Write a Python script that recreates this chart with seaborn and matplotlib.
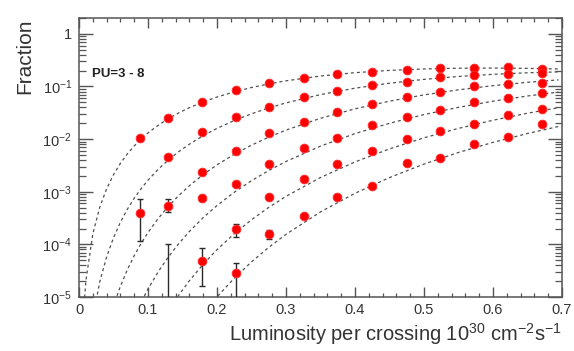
import numpy as np
import pandas as pd
import matplotlib
matplotlib.use("Agg")
import matplotlib.pyplot as plt
import seaborn as sns
from matplotlib.ticker import LogLocator, MultipleLocator, NullFormatter

# ---------------- data ----------------
pu_labels = ["PU=3", "PU=4", "PU=5", "PU=6", "PU=7", "PU=8"]

# measured points
lumi_pts = [0.088, 0.129, 0.178, 0.228, 0.276, 0.326, 0.374, 0.425, 0.475, 0.523, 0.572, 0.622, 0.671]
pu3_pts = [0.0105, 0.025, 0.051, 0.086, 0.117, 0.146, 0.174, 0.19, 0.207, 0.226, 0.226, 0.236, 0.216]
pu4_pts = [4.0e-4, 0.0046, 0.0138, 0.026, 0.041, 0.063, 0.082, 0.107, 0.122, 0.152, 0.166, 0.174, 0.18]
pu5_pts = [None, 5.4e-4, 0.0024, 0.006, 0.013, 0.021, 0.033, 0.047, 0.063, 0.079, 0.103, 0.112, 0.117]
pu6_pts = [None, None, 7.6e-4, 0.0014, 0.0034, 0.0068, 0.0105, 0.0186, 0.026, 0.036, 0.051, 0.061, 0.076]
pu7_pts = [None, None, 4.8e-5, 1.96e-4, 7.9e-4, 0.00175, 0.0034, 0.006, 0.010, 0.0144, 0.0195, 0.029, 0.037]
pu8_pts = [None, None, None, 2.9e-5, 1.58e-4, 3.5e-4, 7.9e-4, 0.0013, 0.0035, 0.0044, 0.0081, 0.011, 0.0195]

# error bars on the low-statistics points: (lumi, value, low, high)
err_lumi = [0.088, 0.129, 0.178, 0.178, 0.228, 0.228, 0.276, 0.129]
err_val = [4.0e-4, 5.4e-4, 7.6e-4, 4.8e-5, 1.96e-4, 2.9e-5, 1.58e-4, 1.0e-6]
err_low = [1.15e-4, 4.1e-4, 6.8e-4, 1.6e-5, 1.4e-4, 1.0e-6, 1.25e-4, 1.0e-6]
err_high = [7.3e-4, 7.3e-4, 8.5e-4, 8.5e-5, 2.4e-4, 4.4e-5, 1.9e-4, 1.0e-4]

# dashed curves
lumi_curve = [0.005, 0.01, 0.02, 0.03, 0.04, 0.05, 0.06, 0.07, 0.08, 0.09, 0.10, 0.115, 0.13,
              0.145, 0.16, 0.18, 0.20, 0.225, 0.25, 0.275, 0.30, 0.35, 0.40, 0.45, 0.50, 0.55,
              0.60, 0.65, 0.695]
pu3_curve = [2.65e-6, 2.06e-5, 1.57e-4, 5.04e-4, 1.135e-3, 2.107e-3, 3.461e-3, 5.224e-3, 7.413e-3,
             0.01003, 0.01308, 0.01844, 0.02469, 0.03175, 0.03953, 0.05086, 0.06304, 0.07907,
             0.09554, 0.1120, 0.1281, 0.1580, 0.1829, 0.2021, 0.2153, 0.2223, 0.2238, 0.2210, 0.2150]
pu4_curve = [None, None, 3.98e-6, 1.92e-5, 5.75e-5, 1.335e-4, 2.632e-4, 4.635e-4, 7.52e-4,
             1.145e-3, 1.658e-3, 2.688e-3, 4.068e-3, 5.834e-3, 8.017e-3, 0.01160, 0.01598, 0.02255,
             0.03027, 0.03905, 0.04872, 0.07007, 0.09275, 0.1153, 0.1365, 0.1549, 0.1702, 0.1821, 0.1894]
pu5_curve = [None, None, None, None, 2.33e-6, 6.77e-6, 1.60e-5, 3.29e-5, 6.10e-5,
             1.045e-4, 1.681e-4, 3.134e-4, 5.362e-4, 8.578e-4, 1.301e-3, 2.118e-3, 3.241e-3, 5.145e-3,
             7.674e-3, 0.01089, 0.01482, 0.02487, 0.03762, 0.05260, 0.06918, 0.08641, 0.1036, 0.1200, 0.1335]
pu6_curve = [None, None, None, None, None, None, None, 1.95e-6, 4.12e-6,
             7.94e-6, 1.421e-5, 3.046e-5, 5.89e-5, 1.051e-4, 1.758e-4, 3.221e-4, 5.477e-4, 9.782e-4,
             1.621e-3, 2.530e-3, 3.757e-3, 7.355e-3, 0.01272, 0.02000, 0.02923, 0.04016, 0.05250, 0.06592, 0.07840]
pu7_curve = [None, None, None, None, None, None, None, None, None,
             None, 1.03e-6, 2.54e-6, 5.55e-6, 1.104e-5, 2.038e-5, 4.20e-5, 7.93e-5, 1.594e-4,
             2.936e-4, 5.040e-4, 8.164e-4, 1.864e-3, 3.684e-3, 6.518e-3, 0.01059, 0.01600, 0.02282, 0.03103, 0.03947]
pu8_curve = [None, None, None, None, None, None, None, None, None,
             None, None, None, None, 1.01e-6, 2.07e-6, 4.79e-6, 1.006e-5, 2.273e-5,
             4.65e-5, 8.78e-5, 1.552e-4, 4.136e-4, 9.339e-4, 1.859e-3, 3.354e-3, 5.576e-3, 8.675e-3, 0.01278, 0.01738]

x_ticks = [0, 0.1, 0.2, 0.3, 0.4, 0.5, 0.6, 0.7]
x_tick_labels = ["0", "0.1", "0.2", "0.3", "0.4", "0.5", "0.6", "0.7"]
y_ticks = [1e-5, 1e-4, 1e-3, 1e-2, 1e-1, 1]
y_tick_labels = [r"$10^{-5}$", r"$10^{-4}$", r"$10^{-3}$", r"$10^{-2}$", r"$10^{-1}$", "1"]

# ---------------- long-form tables ----------------
pts_series = [pu3_pts, pu4_pts, pu5_pts, pu6_pts, pu7_pts, pu8_pts]
curve_series = [pu3_curve, pu4_curve, pu5_curve, pu6_curve, pu7_curve, pu8_curve]

pts_rows = []
for lab, ys in zip(pu_labels, pts_series):
    for x, y in zip(lumi_pts, ys):
        if y is not None:
            pts_rows.append({"pu": lab, "lumi": x, "frac": y})
pts_df = pd.DataFrame(pts_rows)

curve_rows = []
for lab, ys in zip(pu_labels, curve_series):
    for x, y in zip(lumi_curve, ys):
        if y is not None:
            curve_rows.append({"pu": lab, "lumi": x, "frac": y})
curve_df = pd.DataFrame(curve_rows)

# ---------------- style ----------------
sns.set_theme(style="ticks")
plt.rcParams["font.family"] = ["Liberation Sans", "DejaVu Sans"]
plt.rcParams["mathtext.fontset"] = "custom"
plt.rcParams["mathtext.rm"] = "Liberation Sans"
plt.rcParams["mathtext.it"] = "Liberation Sans:italic"
plt.rcParams["mathtext.bf"] = "Liberation Sans:bold"

fig = plt.figure(figsize=(5.74, 3.51), dpi=100)
ax = fig.add_axes([79 / 574, 1 - 297 / 351, (562 - 79) / 574, (297 - 18) / 351])
ax.set_yscale("log")
ax.set_xlim(0, 0.7)
ax.set_ylim(1e-5, 2.0)

sns.lineplot(data=curve_df, x="lumi", y="frac", units="pu", estimator=None,
             color="#505050", lw=0.9, legend=False, ax=ax, zorder=2)
for ln in ax.get_lines():
    ln.set_dashes([2.4, 2.4])

ax.errorbar(err_lumi, err_val,
            yerr=[np.array(err_val) - np.array(err_low), np.array(err_high) - np.array(err_val)],
            fmt="none", ecolor="#2a2a2a", elinewidth=1.0, capsize=2.2, capthick=1.0, zorder=3)

sns.scatterplot(data=pts_df, x="lumi", y="frac", color="#ff0000", s=40, marker="o",
                edgecolor="#ff3030", linewidth=0.6, legend=False, ax=ax, zorder=4)

# axes frame and ticks (ROOT-like)
for sp in ax.spines.values():
    sp.set_color("#555555")
    sp.set_linewidth(1.1)
    sp.set_visible(True)

ax.set_xticks(x_ticks, x_tick_labels)
ax.xaxis.set_minor_locator(MultipleLocator(0.02))
ax.set_yticks(y_ticks, y_tick_labels)
ax.yaxis.set_minor_locator(LogLocator(base=10, subs=np.arange(2, 10), numticks=20))
ax.yaxis.set_minor_formatter(NullFormatter())

ax.tick_params(axis="both", which="both", direction="in", top=True, right=True,
               color="#555555", labelcolor="#333333", labelsize=10.5)
ax.tick_params(axis="x", which="major", length=7, width=1.0, pad=4)
ax.tick_params(axis="x", which="minor", length=3, width=0.9)
ax.tick_params(axis="y", which="major", length=10, width=1.0, pad=5)
ax.tick_params(axis="y", which="minor", length=5, width=0.9)

ax.set_xlabel(r"Luminosity per crossing 10$^{30}$ cm$^{-2}$s$^{-1}$", fontsize=14.5,
              color="#333333", loc="right", labelpad=3)
ax.set_ylabel("Fraction", fontsize=15, color="#333333", loc="top", labelpad=6)

ax.text(0.027, 0.80, "PU=3 - 8", transform=ax.transAxes, fontsize=9.5,
        fontweight="bold", color="#222222", ha="left", va="center")

fig.savefig("out.png", dpi=100)
